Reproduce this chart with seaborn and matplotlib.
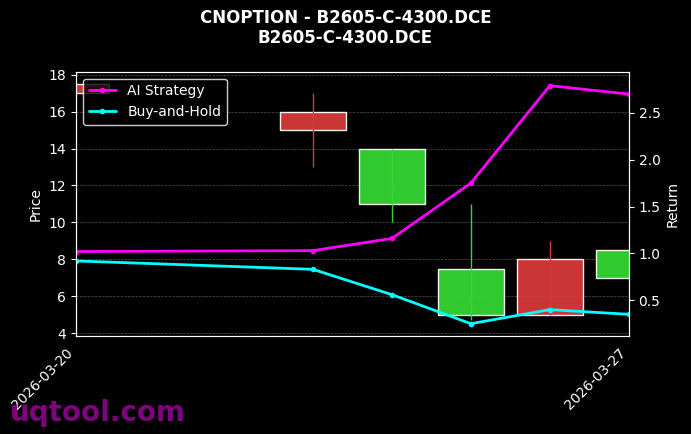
import matplotlib
matplotlib.use("Agg")
import matplotlib.pyplot as plt
import matplotlib.dates as mdates
import numpy as np
import pandas as pd
import seaborn as sns

sns.set_style("dark")
plt.rcParams["font.family"] = ["DejaVu Sans"]

dates = pd.to_datetime(["2026-03-20", "2026-03-23", "2026-03-24", "2026-03-25", "2026-03-26", "2026-03-27"])
opens = [17.5, 16.0, 11.0, 5.0, 8.0, 7.0]
closes = [17.0, 15.0, 14.0, 7.5, 5.0, 8.5]
highs = [17.5, 17.0, 14.0, 11.0, 9.0, 8.5]
lows = [17.0, 13.0, 10.0, 4.7, 5.0, 7.0]
ai_return = [1.02, 1.03, 1.16, 1.75, 2.79, 2.70]
bh_return = [0.92, 0.83, 0.56, 0.25, 0.40, 0.35]

fig, ax = plt.subplots(figsize=(6.91, 4.34), dpi=100)
fig.patch.set_facecolor("black")
ax.set_facecolor("black")

x = mdates.date2num(dates)
width = 0.84
for xi, o, c, h, l in zip(x, opens, closes, highs, lows):
    col = "#33d633" if c >= o else "#d63a3a"
    ax.vlines(xi, l, h, color=col, linewidth=1)
    ax.bar(xi, abs(c - o), bottom=min(o, c), width=width, color=col, alpha=0.95)

ax.set_xlim(x[0], x[-1])
ax.set_ylim(3.84, 18.16)
ax.set_ylabel("Price", color="white")
ax.grid(True, axis="y", color="#555555", linestyle="--", linewidth=0.5)
ax.tick_params(colors="white")
ax.set_xticks([x[0], x[-1]])
ax.set_xticklabels(["2026-03-20", "2026-03-27"], rotation=45, ha="right")
for s in ax.spines.values():
    s.set_color("white")

ax2 = ax.twinx()
df = pd.DataFrame({"x": x, "ai": ai_return, "bh": bh_return})
sns.lineplot(data=df, x="x", y="ai", ax=ax2, color="#ff00ff", linewidth=2, marker="o", markersize=4,
             markeredgewidth=0, label="AI Strategy")
sns.lineplot(data=df, x="x", y="bh", ax=ax2, color="#00ffff", linewidth=2, marker="o", markersize=4,
             markeredgewidth=0, label="Buy-and-Hold")
ax2.set_ylim(0.115, 2.94)
ax2.set_xlim(x[0], x[-1])
ax2.set_ylabel("Return", color="white")
ax2.set_xlabel("")
ax2.tick_params(colors="white")
ax2.grid(False)
for s in ax2.spines.values():
    s.set_color("white")
leg = ax2.legend(loc="upper left", facecolor="black", edgecolor="white", labelcolor="white")

fig.suptitle("CNOPTION - B2605-C-4300.DCE\nB2605-C-4300.DCE", color="white", fontweight="bold", fontsize=12)
fig.text(0.015, 0.03, "uqtool.com", color="#800080", fontsize=20, fontweight="bold")
fig.subplots_adjust(left=0.11, right=0.91, top=0.835, bottom=0.225)
fig.savefig("out.png", facecolor="black")
